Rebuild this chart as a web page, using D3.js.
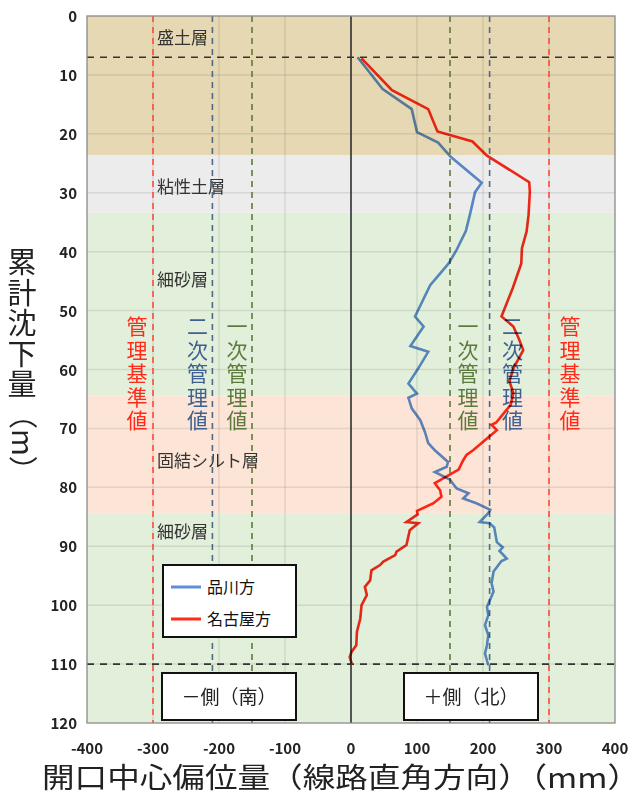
<!DOCTYPE html>
<html>
<head>
<meta charset="utf-8">
<script src="https://cdn.jsdelivr.net/npm/d3@7"></script>
<style>
  body { margin: 0; background: #fff; }
  svg { display: block; font-family: "Noto Sans CJK JP", "Noto Sans", sans-serif; }
</style>
</head>
<body>
<div id="chart"></div>
<script>
// chart size
const W = 641, H = 796
const margin = { top: 16, right: 26, bottom: 73, left: 87 }

// data (depth in m, offset in mm)
const shinagawaDepth = [7.0, 12.4, 15.8, 19.7, 21.5, 23.9, 28.3, 29.9, 33.8, 36.5, 39.7, 42.0, 45.7, 51.0, 52.7, 56.0, 57.0, 59.8, 62.4, 64.1, 64.8, 66.6, 68.6, 70.6, 72.5, 73.7, 75.7, 76.5, 77.4, 78.7, 80.2, 81.0, 81.9, 82.7, 83.8, 84.4, 85.9, 86.1, 86.8, 89.3, 90.2, 90.8, 92.1, 92.5, 93.4, 94.3, 96.3, 97.7, 100.3, 101.7, 103.4, 105.1, 106.8, 108.2, 110.2]
const shinagawaOffset = [10, 48, 92, 100, 132, 151, 198, 188, 180, 174, 160, 148, 120, 97, 110, 90, 117, 102, 87, 100, 87, 92, 105, 112, 117, 127, 147, 145, 127, 150, 160, 178, 170, 190, 211, 208, 195, 210, 217, 221, 230, 225, 236, 228, 222, 216, 213, 216, 206, 208, 203, 208, 206, 203, 208]

const nagoyaDepth = [7.2, 12.6, 15.8, 19.6, 21.3, 23.7, 28.2, 29.8, 33.8, 36.6, 39.4, 42.0, 46.2, 51.0, 52.7, 54.7, 56.7, 59.8, 62.0, 64.0, 66.0, 67.5, 69.0, 69.4, 70.3, 71.7, 73.7, 74.5, 75.4, 77.0, 79.3, 80.5, 81.6, 82.7, 84.0, 84.6, 85.9, 86.1, 87.3, 89.8, 90.9, 91.5, 92.6, 93.2, 94.1, 95.8, 96.9, 98.3, 100.0, 102.3, 104.5, 106.8, 107.9, 108.8, 109.9]
const nagoyaOffset = [16, 62, 117, 131, 184, 206, 270, 271, 269, 266, 259, 258, 245, 228, 246, 254, 261, 246, 240, 246, 242, 231, 220, 213, 221, 206, 185, 175, 170, 163, 127, 135, 137, 125, 100, 101, 84, 102, 89, 84, 69, 67, 49, 44, 31, 29, 21, 24, 16, 14, 9, 8, 1, -2, 1]

// soil layers
const layerNames = ["盛土層", "粘性土層", "細砂層", "固結シルト層", "細砂層"]
const layerTop = [0, 23.6, 33.4, 64.4, 84.4]
const layerBottom = [23.6, 33.4, 64.4, 84.4, 120]
const layerLabelDepth = [3.8, 29.0, 44.8, 75.6, 87.6]
const layerColors = ["#e6d8b2", "#ececec", "#e2efda", "#fce4d6", "#e2efda"]

// control limit lines
const limitValues = [-300, -210, -150, 150, 210, 300]
const limitNames = ["管理基準値", "二次管理値", "一次管理値", "一次管理値", "二次管理値", "管理基準値"]
const limitColors = ["#ff4a3d", "#4e6a86", "#5f7a3a", "#5f7a3a", "#4e6a86", "#ff4a3d"]
const limitTextColors = ["#ff2a1a", "#3f6190", "#5b7a3c", "#5b7a3c", "#3f6190", "#ff2a1a"]

const xTicks = [-400, -300, -200, -100, 0, 100, 200, 300, 400]
const yTicks = [0, 10, 20, 30, 40, 50, 60, 70, 80, 90, 100, 110, 120]
const guideDepths = [7, 110]

const x = d3.scaleLinear().domain([-400, 400]).range([margin.left, W - margin.right])
const y = d3.scaleLinear().domain([0, 120]).range([margin.top, H - margin.bottom])

const svg = d3.select("#chart").append("svg")
    .attr("width", W)
    .attr("height", H)

// layer bands
svg.selectAll(".band")
    .data(layerNames)
    .join("rect")
    .attr("x", x(-400))
    .attr("width", x(400) - x(-400))
    .attr("y", (d, i) => y(layerTop[i]))
    .attr("height", (d, i) => y(layerBottom[i]) - y(layerTop[i]))
    .attr("fill", (d, i) => layerColors[i])

// grid
svg.append("g").selectAll("line")
    .data(xTicks.slice(1, -1))
    .join("line")
    .attr("x1", d => x(d)).attr("x2", d => x(d))
    .attr("y1", y(0)).attr("y2", y(120))
    .attr("stroke", "rgba(0,0,0,0.09)")
    .attr("stroke-width", 1.5)
svg.append("g").selectAll("line")
    .data(yTicks.slice(1, -1))
    .join("line")
    .attr("x1", x(-400)).attr("x2", x(400))
    .attr("y1", d => y(d)).attr("y2", d => y(d))
    .attr("stroke", "rgba(0,0,0,0.09)")
    .attr("stroke-width", 1.5)

// layer labels
svg.selectAll(".layerLabel")
    .data(layerNames)
    .join("text")
    .attr("x", 157)
    .attr("y", (d, i) => y(layerLabelDepth[i]) + 6)
    .attr("font-size", 17)
    .attr("fill", "#333")
    .text(d => d)

// limit lines
svg.append("g").selectAll("line")
    .data(limitValues)
    .join("line")
    .attr("x1", d => x(d)).attr("x2", d => x(d))
    .attr("y1", y(0)).attr("y2", y(120))
    .attr("stroke", (d, i) => limitColors[i])
    .attr("stroke-width", 1.6)
    .attr("stroke-dasharray", "6,5")

// zero line
svg.append("line")
    .attr("x1", x(0)).attr("x2", x(0))
    .attr("y1", y(0)).attr("y2", y(120))
    .attr("stroke", "#333")
    .attr("stroke-width", 1.6)

// horizontal guide lines
svg.append("g").selectAll("line")
    .data(guideDepths)
    .join("line")
    .attr("x1", x(-400)).attr("x2", x(400))
    .attr("y1", d => y(d)).attr("y2", d => y(d))
    .attr("stroke", "#333")
    .attr("stroke-width", 1.6)
    .attr("stroke-dasharray", "7,6")

// vertical labels for limit lines (one char per row)
const labelOffsets = [-16, -15, -15, 18, 23, 21]
limitNames.forEach(function (name, i) {
    const cx = x(limitValues[i]) + labelOffsets[i]
    name.split("").forEach(function (ch, k) {
        svg.append("text")
            .attr("x", cx)
            .attr("y", 334 + k * 23.5)
            .attr("text-anchor", "middle")
            .attr("font-size", 21)
            .attr("fill", limitTextColors[i])
            .text(ch)
    })
})

// series lines
const line = d3.line()
    .x(d => x(d[1]))
    .y(d => y(d[0]))

svg.append("path")
    .datum(d3.zip(shinagawaDepth, shinagawaOffset))
    .attr("d", line)
    .attr("fill", "none")
    .attr("stroke", "#5f8fd8")
    .attr("stroke-width", 2.6)
    .style("mix-blend-mode", "multiply")

svg.append("path")
    .datum(d3.zip(nagoyaDepth, nagoyaOffset))
    .attr("d", line)
    .attr("fill", "none")
    .attr("stroke", "#ff2a1a")
    .attr("stroke-width", 2.6)
    .style("mix-blend-mode", "multiply")

// plot border
svg.append("rect")
    .attr("x", x(-400)).attr("y", y(0))
    .attr("width", x(400) - x(-400)).attr("height", y(120) - y(0))
    .attr("fill", "none")
    .attr("stroke", "#8a8a8a")
    .attr("stroke-width", 1.3)

// legend
const legend = svg.append("g").attr("transform", "translate(163,565)")
legend.append("rect")
    .attr("width", 133).attr("height", 72)
    .attr("fill", "#fff").attr("stroke", "#111").attr("stroke-width", 2)
const legendNames = ["品川方", "名古屋方"]
const legendColors = ["#5f8fd8", "#ff2a1a"]
legendNames.forEach(function (n, i) {
    legend.append("line")
        .attr("x1", 8).attr("x2", 38)
        .attr("y1", 22 + i * 32).attr("y2", 22 + i * 32)
        .attr("stroke", legendColors[i]).attr("stroke-width", 3)
    legend.append("text")
        .attr("x", 44).attr("y", 28 + i * 32)
        .attr("font-size", 16).attr("fill", "#111")
        .text(n)
})

// side boxes
const sideNames = ["－側（南）", "＋側（北）"]
const sideX = [162, 404]
sideNames.forEach(function (n, i) {
    svg.append("rect")
        .attr("x", sideX[i]).attr("y", 673)
        .attr("width", 134).attr("height", 47)
        .attr("fill", "#fff").attr("stroke", "#111").attr("stroke-width", 2)
    svg.append("text")
        .attr("x", sideX[i] + 67).attr("y", 704)
        .attr("text-anchor", "middle")
        .attr("font-size", 19).attr("fill", "#222")
        .text(n)
})

// axis tick labels
svg.append("g").selectAll("text")
    .data(xTicks)
    .join("text")
    .attr("x", d => x(d))
    .attr("y", 754)
    .attr("text-anchor", "middle")
    .attr("font-size", 15)
    .attr("font-weight", "bold")
    .attr("fill", "#222")
    .text(d => d)

svg.append("g").selectAll("text")
    .data(yTicks)
    .join("text")
    .attr("x", 77)
    .attr("y", d => y(d) + 6)
    .attr("text-anchor", "end")
    .attr("font-size", 15)
    .attr("font-weight", "bold")
    .attr("fill", "#222")
    .text(d => d)

// axis titles
svg.append("text")
    .attr("x", 341)
    .attr("y", 788)
    .attr("text-anchor", "middle")
    .attr("font-size", 28)
    .attr("fill", "#222")
    .attr("textLength", 598)
    .attr("lengthAdjust", "spacingAndGlyphs")
    .text("開口中心偏位量（線路直角方向）（mm）")

"累計沈下量".split("").forEach(function (ch, k) {
    svg.append("text")
        .attr("x", 22)
        .attr("y", 273 + k * 30.5)
        .attr("text-anchor", "middle")
        .attr("font-size", 29)
        .attr("fill", "#222")
        .text(ch)
})
svg.append("text")
    .attr("transform", "translate(12,400) rotate(90)")
    .attr("font-size", 29)
    .attr("fill", "#222")
    .text("（m）")
</script>
</body>
</html>
